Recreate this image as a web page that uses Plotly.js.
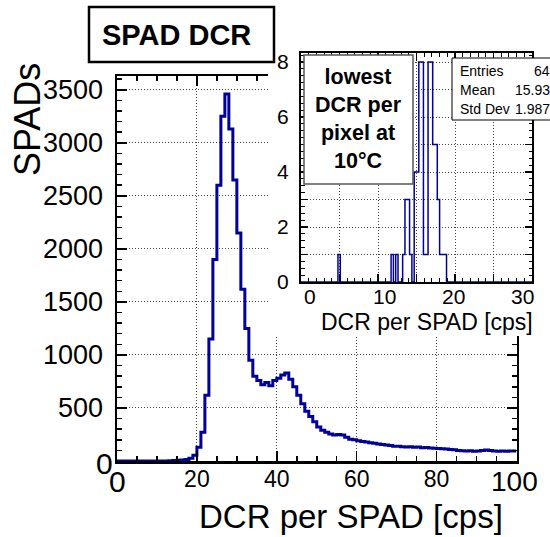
<!DOCTYPE html>
<html><head><meta charset="utf-8">
<script src="https://cdn.plot.ly/plotly-3.0.1.min.js"></script>
<style>
html,body{margin:0;padding:0;background:#fff;}
#wrap{position:relative;width:550px;height:537px;overflow:hidden;}
#main,#inset{position:absolute;left:0;top:0;width:550px;height:537px;}
</style></head><body>
<div id="wrap"><div id="main"></div><div id="inset"></div></div>
<script>
// ---------------- data ----------------
// main histogram: DCR per SPAD, bins of 1 cps from 0 to 100
const mainBinStart = 0;
const mainBinWidth = 1;
const mainCounts = [
  0,0,0,0,0,0,0,0,0,0,
  0,0,0,2,4,6,10,15,25,55,
  130,270,620,1150,1900,2600,3250,3460,3130,2650,
  2150,1620,1250,950,800,760,720,740,710,760,
  780,810,830,770,700,620,540,470,420,370,
  320,290,270,255,245,250,245,225,205,200,
  190,185,180,172,168,160,155,150,145,140,
  140,135,132,135,130,132,125,128,122,120,
  118,115,113,108,105,100,96,94,96,92,
  95,100,104,98,95,92,94,92,95,94
];
const mainXTickVals = [0, 20, 40, 60, 80, 100];
const mainXTickText = ['', '20', '40', '60', '80', ''];
const mainYTickVals = [0, 500, 1000, 1500, 2000, 2500, 3000, 3500];
const mainYTickText = ['', '500', '1000', '1500', '2000', '2500', '3000', '3500'];

// inset histogram: lowest DCR per pixel, bins of 0.3 cps from 0 to 30
const insetBinStart = 0;
const insetBinWidth = 0.3;
const insetNBins = 100;
const insetBinIndex  = [16, 39, 41, 44, 45, 46, 47, 49, 50, 51, 52, 53, 54, 55, 56, 57, 58, 59, 60, 61, 62];
const insetBinCounts = [ 1,  1,  1,  1,  3,  3,  1,  4,  4,  8,  8,  1,  1,  8,  8,  5,  5,  3,  1,  1,  1];
const insetYTickVals = [0, 1, 2, 3, 4, 5, 6, 7, 8];
const insetYTickText = ['0', '', '2', '', '4', '', '6', '', '8'];
const insetXLabels = ['0', '10', '20', '30'];

const statLabels = ['Entries', 'Mean', 'Std Dev'];
const statValues = ['64', '15.93', '1.987'];
const noteLines = ['lowest', 'DCR per', 'pixel at', '10°C'];
const titleText = 'SPAD DCR';
const xTitle = 'DCR per SPAD [cps]';
const yTitle = 'SPADs';

// ---------------- helpers ----------------
const W = 550, H = 537;
const X = p => p / W;
const Y = p => 1 - p / H;
const FONT = 'Liberation Sans, Arial, Helvetica, sans-serif';
const GRID = {showgrid: true, gridcolor: '#444', gridwidth: 1, griddash: '1px,2px'};
const BLUE = '#00009b';

function stairs(start, width, counts) {
  const xs = [], ys = [];
  for (let i = 0; i < counts.length; i++) { xs.push(start + i * width); ys.push(counts[i]); }
  xs.push(start + counts.length * width); ys.push(counts[counts.length - 1]);
  return {x: xs, y: ys};
}

// ---------------- main plot ----------------
const m = stairs(mainBinStart, mainBinWidth, mainCounts);
const mainTrace = {
  type: 'scatter', mode: 'lines', x: m.x, y: m.y,
  line: {shape: 'hv', color: BLUE, width: 3}, hoverinfo: 'skip'
};
const mainLayout = {
  width: W, height: H, margin: {l: 0, r: 0, t: 0, b: 0},
  paper_bgcolor: '#fff', plot_bgcolor: '#fff', showlegend: false,
  font: {family: FONT, color: '#000'},
  xaxis: Object.assign({
    domain: [X(117), X(516.5)], range: [0, 100], zeroline: false,
    showline: true, linewidth: 2.5, linecolor: '#000', mirror: 'ticks',
    ticks: 'inside', ticklen: 10, tickwidth: 1.5, tickcolor: '#000',
    tickmode: 'array', tickvals: mainXTickVals, ticktext: mainXTickText,
    tickfont: {size: 23, family: FONT, color: '#000'}, ticklabelstandoff: -4,
    minor: {tickmode: 'linear', tick0: 0, dtick: 5, ticks: 'inside', ticklen: 5, tickwidth: 1.5, tickcolor: '#000', showgrid: false}
  }, GRID),
  yaxis: Object.assign({
    domain: [Y(461), Y(76)], range: [0, 3630], zeroline: false,
    showline: true, linewidth: 2.5, linecolor: '#000', mirror: 'ticks',
    ticks: 'inside', ticklen: 10, tickwidth: 1.5, tickcolor: '#000',
    tickmode: 'array', tickvals: mainYTickVals, ticktext: mainYTickText,
    tickfont: {size: 27, family: FONT, color: '#000'}, ticklabelstandoff: 6,
    minor: {tickmode: 'linear', tick0: 0, dtick: 100, ticks: 'inside', ticklen: 5, tickwidth: 1.5, tickcolor: '#000', showgrid: false}
  }, GRID),
  annotations: [
    {text: mainXTickVals[0].toString(), xref: 'paper', yref: 'paper', x: X(117), y: Y(481), xanchor: 'center', yanchor: 'middle', showarrow: false, font: {size: 30, family: FONT}},
    {text: mainXTickVals[5].toString(), xref: 'paper', yref: 'paper', x: X(514), y: Y(481), xanchor: 'center', yanchor: 'middle', showarrow: false, font: {size: 28, family: FONT}},
    {text: mainYTickVals[0].toString(), xref: 'paper', yref: 'paper', x: X(104), y: Y(463), xanchor: 'center', yanchor: 'middle', showarrow: false, font: {size: 30, family: FONT}},
    {text: xTitle, xref: 'paper', yref: 'paper', x: X(351), y: Y(516), xanchor: 'center', yanchor: 'middle', showarrow: false, font: {size: 33, family: FONT}},
    {text: yTitle, xref: 'paper', yref: 'paper', x: X(28), y: Y(120), xanchor: 'center', yanchor: 'middle', textangle: -90, showarrow: false, font: {size: 36, family: FONT}}
  ]
};

// ---------------- inset (pad) ----------------
const insetFull = new Array(insetNBins).fill(0);
insetBinIndex.forEach((b, i) => { insetFull[b] = insetBinCounts[i]; });
const s = stairs(insetBinStart, insetBinWidth, insetFull);
const insetTrace = {
  type: 'scatter', mode: 'lines', x: s.x, y: s.y,
  line: {shape: 'hv', color: BLUE, width: 1.5}, hoverinfo: 'skip'
};
const insetLabelPx = [310, 384, 453, 522];
const statRowsPx = [71, 90, 109];
const insetLayout = {
  width: W, height: H, margin: {l: 0, r: 0, t: 0, b: 0},
  paper_bgcolor: 'rgba(0,0,0,0)', plot_bgcolor: '#fff', showlegend: false,
  font: {family: FONT, color: '#000'},
  xaxis: Object.assign({
    domain: [X(301), X(532)], range: [0, 30], zeroline: false,
    showline: true, linewidth: 2, linecolor: '#000', mirror: 'ticks',
    ticks: 'inside', ticklen: 8, tickwidth: 1.2, tickcolor: '#000',
    tickmode: 'linear', tick0: 0, dtick: 5, showticklabels: false,
    minor: {tickmode: 'linear', tick0: 0, dtick: 1, ticks: 'inside', ticklen: 4, tickwidth: 1, tickcolor: '#000', showgrid: false}
  }, GRID),
  yaxis: Object.assign({
    domain: [Y(282), Y(53)], range: [0, 8.33], zeroline: false,
    showline: true, linewidth: 2, linecolor: '#000', mirror: 'ticks',
    ticks: 'inside', ticklen: 7, tickwidth: 1.2, tickcolor: '#000',
    tickmode: 'array', tickvals: insetYTickVals, ticktext: insetYTickText,
    tickfont: {size: 21, family: FONT, color: '#000'}, ticklabelstandoff: 6,
    minor: {tickmode: 'linear', tick0: 0, dtick: 0.25, ticks: 'inside', ticklen: 3.5, tickwidth: 1, tickcolor: '#000', showgrid: false}
  }, GRID),
  shapes: [
    {type: 'rect', xref: 'paper', yref: 'paper', x0: X(268), x1: X(560), y0: Y(336), y1: Y(36), fillcolor: '#fff', line: {width: 0}, layer: 'below'},
    {type: 'rect', xref: 'paper', yref: 'paper', x0: X(89), x1: X(274), y0: Y(62), y1: Y(7), fillcolor: '#fff', line: {color: '#000', width: 2.5}, layer: 'above'},
    {type: 'rect', xref: 'paper', yref: 'paper', x0: X(304), x1: X(413), y0: Y(184), y1: Y(55), fillcolor: '#fff', line: {color: '#555', width: 1.5}, layer: 'above'},
    {type: 'rect', xref: 'paper', yref: 'paper', x0: X(452), x1: X(575), y0: Y(120), y1: Y(58), fillcolor: '#fff', line: {color: '#000', width: 1}, layer: 'above'}
  ],
  annotations: [
    {text: '<b>' + titleText + '</b>', xref: 'paper', yref: 'paper', x: X(176), y: Y(35), xanchor: 'center', yanchor: 'middle', showarrow: false, font: {size: 29, family: FONT}},
    {text: '<b>' + noteLines.join('<br>') + '</b>', xref: 'paper', yref: 'paper', x: X(358), y: Y(119), xanchor: 'center', yanchor: 'middle', align: 'center', showarrow: false, font: {size: 21.5, family: FONT}},
    {text: xTitle, xref: 'paper', yref: 'paper', x: X(427), y: Y(322), xanchor: 'center', yanchor: 'middle', showarrow: false, font: {size: 23, family: FONT}}
  ]
};
insetXLabels.forEach((t, i) => {
  insetLayout.annotations.push({text: t, xref: 'paper', yref: 'paper', x: X(insetLabelPx[i]), y: Y(296), xanchor: 'center', yanchor: 'middle', showarrow: false, font: {size: 21, family: FONT}});
});
statLabels.forEach((t, i) => {
  insetLayout.annotations.push({text: t, xref: 'paper', yref: 'paper', x: X(458), y: Y(statRowsPx[i]), xanchor: 'left', yanchor: 'middle', showarrow: false, font: {size: 14, family: FONT}});
  insetLayout.annotations.push({text: statValues[i], xref: 'paper', yref: 'paper', x: X(552), y: Y(statRowsPx[i]), xanchor: 'right', yanchor: 'middle', showarrow: false, font: {size: 14, family: FONT}});
});

const cfg = {staticPlot: true, displayModeBar: false};
Plotly.newPlot('main', [mainTrace], mainLayout, cfg);
Plotly.newPlot('inset', [insetTrace], insetLayout, cfg);
</script>
</body></html>
